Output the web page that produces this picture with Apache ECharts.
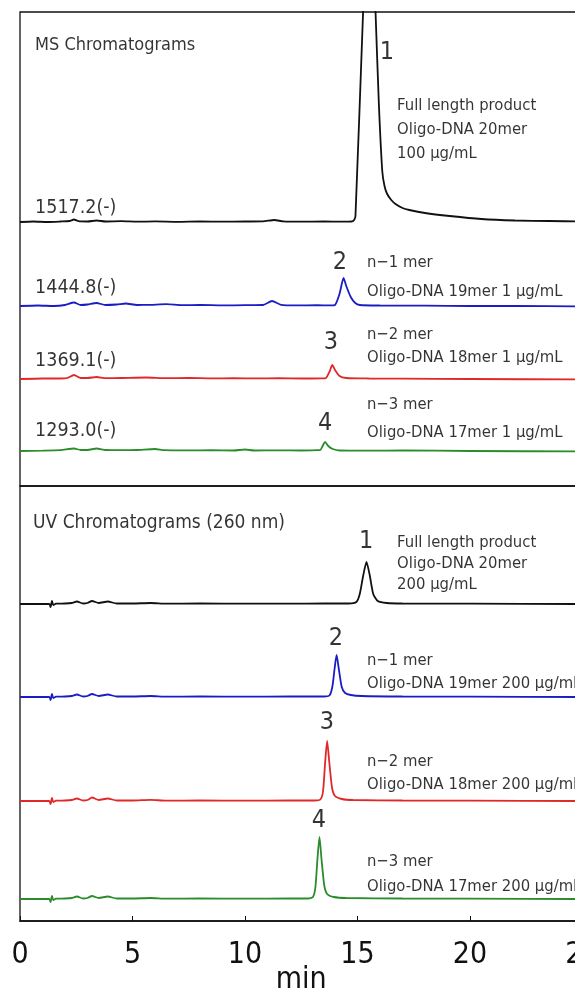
<!DOCTYPE html>
<html>
<head>
<meta charset="utf-8">
<script src="https://cdn.jsdelivr.net/npm/echarts@6/dist/echarts.min.js"></script>
<style>
  html, body { margin: 0; padding: 0; background: #fff; }
  #chart { width: 575px; height: 989px; }
</style>
</head>
<body>
<div id="chart"></div>
<script>
// ---- data: [retention time (min), intensity] ----
const msFull = [[0,0],[0.6,0.5],[1.2,0],[1.8,0.5],[2.2,1],[2.4,2.5],[2.6,0.8],[3.0,0.5],[3.4,1.5],[3.8,0.5],[4.5,0.8],[5.2,0.3],[6,0.6],[7,0.2],[8,0.6],[9,0.3],[10,0.5],[10.8,0.6],[11.3,2],[11.7,0.6],[12.5,0.3],[13.5,0.6],[14.3,0.3],[14.75,0.5],[14.85,2],[14.91,6],[15.25,211],[15.53,380],[15.8,211],[15.95,118],[16.1,51],[16.2,36],[16.32,28],[16.5,22],[16.69,18],[17.0,14],[17.3,12],[18,9],[19.1,6],[20.5,3],[22,1.5],[23.5,1],[25,0.5]]
const msN1 = [[0,0],[0.8,0.5],[1.5,0],[2.0,1],[2.4,3.5],[2.7,1],[3.0,1.5],[3.4,3],[3.8,1],[4.3,1.5],[4.7,2.5],[5.2,1],[5.8,1.2],[6.5,1.8],[7.2,0.8],[8,1],[9,0.6],[10,0.8],[10.8,1],[11.2,5],[11.6,1.2],[12.3,0.6],[13.2,0.8],[13.8,0.6],[14.0,1],[14.2,12],[14.38,28],[14.5,20],[14.7,9],[14.9,3],[15.1,1],[16,0.5],[18,0.3],[20,0],[22,0],[25,-0.5]]
const msN2 = [[0,0],[1,0.5],[1.8,0.5],[2.1,1],[2.4,4],[2.7,1],[3.0,1],[3.4,2],[3.8,0.8],[4.5,1],[5.6,1.5],[6.5,0.8],[7.5,1],[8.5,0.6],[9.5,0.8],[10.5,0.6],[11.5,0.8],[12.5,0.5],[13.4,0.6],[13.6,1],[13.75,7],[13.88,14],[14.0,9],[14.2,3],[14.5,1],[15.5,0.5],[17,0.3],[20,0],[25,-0.5]]
const msN3 = [[0,0],[1,0.3],[1.8,0.8],[2.4,2.5],[2.7,1],[3.0,1],[3.4,2.5],[3.8,1],[4.5,0.8],[5.2,1],[6.0,2],[6.4,0.8],[7.5,0.6],[8.5,0.8],[9.5,0.5],[10.0,1.5],[10.4,0.5],[11.5,0.6],[12.5,0.5],[13.2,0.8],[13.35,1],[13.45,5],[13.56,9],[13.7,5],[13.9,2],[14.2,0.5],[15.5,0.3],[17,0.5],[20,0],[25,-0.5]]

const uvFull = [[0,0],[1.3,0],[1.36,-3],[1.42,3],[1.48,-1],[1.6,0.3],[2.0,0.5],[2.3,1],[2.53,2.5],[2.8,0.5],[3.0,1],[3.2,3],[3.5,1],[3.9,2.5],[4.3,0.5],[5.0,0.5],[5.8,1],[6.5,0.3],[8,0.5],[10,0.3],[12,0.3],[13.5,0.5],[14.6,0.5],[14.95,2],[15.1,10],[15.25,28],[15.4,42],[15.55,28],[15.7,10],[15.9,3],[16.3,1],[17,0.5],[20,0.3],[25,0]]
const uvN1 = [[0,0],[1.3,0],[1.36,-3],[1.42,3],[1.48,-1],[1.6,0.3],[2.0,0.5],[2.3,1],[2.53,2.5],[2.8,0.5],[3.0,1],[3.2,3],[3.5,1],[3.9,2.5],[4.3,0.5],[5.0,0.5],[5.8,1],[6.5,0.3],[8,0.5],[10,0.3],[12,0.5],[13.5,0.5],[13.75,1.5],[13.88,10],[13.98,28],[14.07,42],[14.17,28],[14.3,10],[14.45,4],[14.7,2],[15.2,1],[17,0.5],[20,0.3],[25,0]]
const uvN2 = [[0,0],[1.3,0],[1.36,-3],[1.42,3],[1.48,-1],[1.6,0.3],[2.0,0.5],[2.3,1],[2.53,2.5],[2.8,0.5],[3.0,1],[3.2,3.5],[3.5,1],[3.9,2.5],[4.3,0.5],[5.0,0.5],[5.8,1.2],[6.5,0.3],[8,0.5],[10,0.3],[12,0.5],[13.1,0.5],[13.35,1.5],[13.47,10],[13.56,38],[13.65,60],[13.75,38],[13.87,13],[14.0,5],[14.3,2],[14.8,1],[17,0.5],[20,0.3],[25,0]]
const uvN3 = [[0,0],[1.3,0],[1.36,-3],[1.42,3],[1.48,-1],[1.6,0.3],[2.0,0.5],[2.3,1],[2.53,2.5],[2.8,0.5],[3.0,1],[3.2,3],[3.5,1],[3.9,2.5],[4.3,0.5],[5.0,0.5],[5.8,1],[6.5,0.3],[8,0.5],[10,0.3],[12,0.5],[12.8,0.5],[13.02,2],[13.13,12],[13.22,40],[13.31,62],[13.4,40],[13.52,14],[13.65,5],[13.95,2],[14.5,1],[17,0.5],[20,0.3],[25,0]]

const xTicks = [0, 5, 10, 15, 20, 25]
const panelTitles = ['MS Chromatograms', 'UV Chromatograms (260 nm)']
const msMasses = ['1517.2(-)', '1444.8(-)', '1369.1(-)', '1293.0(-)']
const peakNames = ['1', '2', '3', '4']
const msNotes = [
  ['Full length product', 'Oligo-DNA 20mer', '100 µg/mL'],
  ['n−1 mer', 'Oligo-DNA 19mer 1 µg/mL'],
  ['n−2 mer', 'Oligo-DNA 18mer 1 µg/mL'],
  ['n−3 mer', 'Oligo-DNA 17mer 1 µg/mL']
]
const uvNotes = [
  ['Full length product', 'Oligo-DNA 20mer', '200 µg/mL'],
  ['n−1 mer', 'Oligo-DNA 19mer 200 µg/mL'],
  ['n−2 mer', 'Oligo-DNA 18mer 200 µg/mL'],
  ['n−3 mer', 'Oligo-DNA 17mer 200 µg/mL']
]

// ---- layout (stack offsets and label anchors, in axis units) ----
const colors = ['#111111', '#1c1cc4', '#e02828', '#2a8c2a']
const msOffsets = [264, 180, 107, 35]
const uvOffsets = [317, 224, 120, 22]
const msTitleAt = [0.67, 441]
const uvTitleAt = [0.58, 398]
const msMassAt = [[0.67, 278], [0.67, 198], [0.67, 125], [0.67, 55]]
const msPeakAt = [[16.31, 434], [14.22, 224], [13.82, 144], [13.56, 63]]
const msNoteAt = [[16.76, [380, 356, 332]], [15.42, [223, 194]], [15.42, [151, 128]], [15.42, [81, 53]]]
const uvPeakAt = [[15.38, 380], [14.04, 283], [13.64, 199], [13.29, 101]]
const uvNoteAt = [[16.76, [378, 357, 336]], [15.42, [260, 237]], [15.42, [159, 136]], [15.42, [59, 34]]]

const FONT = "'Liberation Sans Narrow', 'DejaVu Sans Condensed', 'Noto Sans CJK JP', sans-serif"

function txt (x, y, text, size, center) {
  return {
    value: [x, y],
    label: {
      show: true,
      formatter: text,
      position: center ? 'inside' : 'right',
      distance: 0,
      fontSize: size,
      color: '#000',
      fontFamily: FONT
    }
  }
}

function shift (data, off) {
  return data.map(p => [p[0], p[1] + off])
}

function trace (data, off, color, idx) {
  return {
    type: 'line',
    xAxisIndex: idx,
    yAxisIndex: idx,
    data: shift(data, off),
    showSymbol: false,
    smooth: 0.2,
    clip: true,
    silent: true,
    lineStyle: { color: color, width: 1.8 },
    z: 3
  }
}

let msLabels = [txt(msTitleAt[0], msTitleAt[1], panelTitles[0], 18)]
let uvLabels = [txt(uvTitleAt[0], uvTitleAt[1], panelTitles[1], 19)]
msMasses.forEach((m, i) => msLabels.push(txt(msMassAt[i][0], msMassAt[i][1], m, 19.5)))
peakNames.forEach((p, i) => {
  msLabels.push(txt(msPeakAt[i][0], msPeakAt[i][1], p, 25, true))
  uvLabels.push(txt(uvPeakAt[i][0], uvPeakAt[i][1], p, 25, true))
  msNotes[i].forEach((line, j) => msLabels.push(txt(msNoteAt[i][0], msNoteAt[i][1][j], line, 16.5)))
  uvNotes[i].forEach((line, j) => uvLabels.push(txt(uvNoteAt[i][0], uvNoteAt[i][1][j], line, 16.5)))
})

const msTraces = [msFull, msN1, msN2, msN3]
const uvTraces = [uvFull, uvN1, uvN2, uvN3]

let series = []
msTraces.forEach((d, i) => series.push(trace(d, msOffsets[i], colors[i], 0)))
uvTraces.forEach((d, i) => series.push(trace(d, uvOffsets[i], colors[i], 1)))
series.push({ type: 'scatter', xAxisIndex: 0, yAxisIndex: 0, symbolSize: 0, silent: true, data: msLabels, z: 5 })
series.push({ type: 'scatter', xAxisIndex: 1, yAxisIndex: 1, symbolSize: 0, silent: true, data: uvLabels, z: 5 })

const myChart = echarts.init(document.getElementById('chart'), null, { renderer: 'canvas' })
myChart.setOption({
  animation: false,
  backgroundColor: '#fff',
  grid: [
    { left: 20, right: -7.5, top: 12, height: 474, outerBoundsMode: 'none', containLabel: false, show: true, borderColor: '#111', borderWidth: 1.3 },
    { left: 20, right: -7.5, top: 486, height: 435, outerBoundsMode: 'none', containLabel: false, show: true, borderColor: '#111', borderWidth: 1.3 }
  ],
  xAxis: [
    { type: 'value', gridIndex: 0, min: 0, max: 25, show: false },
    {
      type: 'value',
      gridIndex: 1,
      min: 0,
      max: 25,
      interval: 5,
      name: 'min',
      nameLocation: 'middle',
      nameGap: 44,
      nameMoveOverlap: false,
      nameTextStyle: { fontSize: 30, color: '#111', fontFamily: FONT },
      axisLine: { lineStyle: { color: '#111', width: 1.5 } },
      axisTick: { inside: true, length: 5, lineStyle: { color: '#111' } },
      axisLabel: {
        margin: 19,
        fontSize: 30,
        color: '#111',
        fontFamily: FONT,
        customValues: xTicks
      },
      splitLine: { show: false }
    }
  ],
  yAxis: [
    { type: 'value', gridIndex: 0, min: 0, max: 474, show: false },
    { type: 'value', gridIndex: 1, min: 0, max: 435, show: false }
  ],
  series: series
})
</script>
</body>
</html>
